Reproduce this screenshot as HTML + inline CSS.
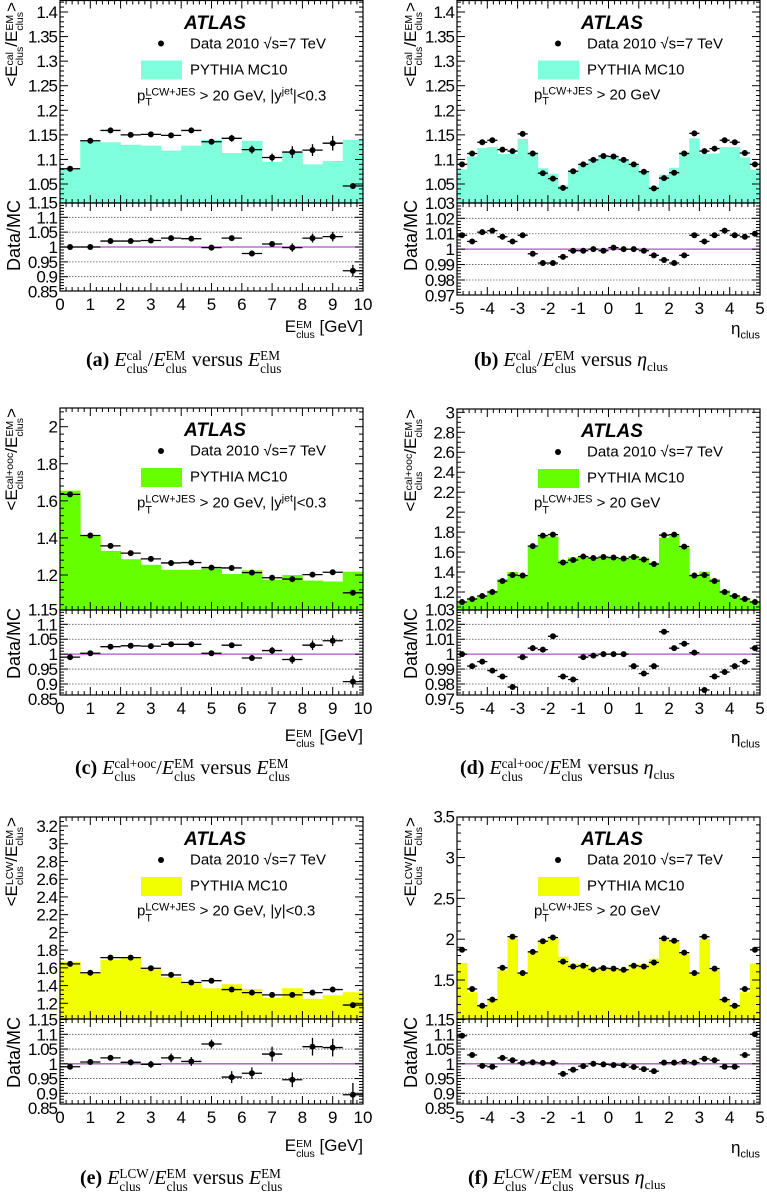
<!DOCTYPE html>
<html><head><meta charset="utf-8">
<style>
html,body{margin:0;padding:0;background:#fff;}
body{width:767px;height:1192px;position:relative;overflow:hidden;font-family:"Liberation Sans",sans-serif;}
svg{position:absolute;left:0;top:0;}
.lbl{position:absolute;white-space:nowrap;color:#000;line-height:1;}
.ss{display:inline-flex;flex-direction:column;font-size:0.62em;line-height:0.95;vertical-align:0.42em;text-align:left;}
.cap{position:absolute;white-space:nowrap;font-family:"Liberation Serif",serif;font-size:20px;line-height:1;}
.cap i{font-style:italic;}
.cap .ss{font-size:0.66em;vertical-align:0.45em;}
.yt{position:absolute;white-space:nowrap;font-size:17px;line-height:1;transform-origin:0 0;transform:rotate(-90deg) translate(-100%,-50%);}
.atlas{position:absolute;font-weight:bold;font-style:italic;font-size:19px;transform:translate(-50%,-50%);}
.leg{position:absolute;font-size:15px;transform:translateY(-50%);white-space:nowrap;}
</style></head>
<body>
<svg id="fig" width="767" height="1192"></svg>

<div class="yt" style="left:14px;top:2px">&lt;E<span class="ss"><span>cal</span><span>clus</span></span>/E<span class="ss"><span>EM</span><span>clus</span></span>&gt;</div>
<div class="yt" style="left:413px;top:2px">&lt;E<span class="ss"><span>cal</span><span>clus</span></span>/E<span class="ss"><span>EM</span><span>clus</span></span>&gt;</div>
<div class="yt" style="left:14px;top:408px">&lt;E<span class="ss"><span>cal+ooc</span><span>clus</span></span>/E<span class="ss"><span>EM</span><span>clus</span></span>&gt;</div>
<div class="yt" style="left:413px;top:409px">&lt;E<span class="ss"><span>cal+ooc</span><span>clus</span></span>/E<span class="ss"><span>EM</span><span>clus</span></span>&gt;</div>
<div class="yt" style="left:14px;top:817px">&lt;E<span class="ss"><span>LCW</span><span>clus</span></span>/E<span class="ss"><span>EM</span><span>clus</span></span>&gt;</div>
<div class="yt" style="left:413px;top:817px">&lt;E<span class="ss"><span>LCW</span><span>clus</span></span>/E<span class="ss"><span>EM</span><span>clus</span></span>&gt;</div>

<div class="yt" style="font-size:18px;left:14px;top:200px">Data/MC</div>
<div class="yt" style="font-size:18px;left:411px;top:200px">Data/MC</div>
<div class="yt" style="font-size:18px;left:14px;top:608px">Data/MC</div>
<div class="yt" style="font-size:18px;left:411px;top:608px">Data/MC</div>
<div class="yt" style="font-size:18px;left:14px;top:1017px">Data/MC</div>
<div class="yt" style="font-size:18px;left:411px;top:1017px">Data/MC</div>

<div class="lbl" style="font-size:17px;right:404px;top:318px">E<span class="ss"><span>EM</span><span>clus</span></span> [GeV]</div>
<div class="lbl" style="font-size:17px;right:7px;top:320px">η<sub style="font-size:11px">clus</sub></div>
<div class="lbl" style="font-size:17px;right:404px;top:727px">E<span class="ss"><span>EM</span><span>clus</span></span> [GeV]</div>
<div class="lbl" style="font-size:17px;right:7px;top:729px">η<sub style="font-size:11px">clus</sub></div>
<div class="lbl" style="font-size:17px;right:404px;top:1137px">E<span class="ss"><span>EM</span><span>clus</span></span> [GeV]</div>
<div class="lbl" style="font-size:17px;right:7px;top:1139px">η<sub style="font-size:11px">clus</sub></div>

<div class="cap" style="left:86px;top:350px"><b>(a)</b> <i>E</i><span class="ss"><span>cal</span><span>clus</span></span>/<i>E</i><span class="ss"><span>EM</span><span>clus</span></span> versus <i>E</i><span class="ss"><span>EM</span><span>clus</span></span></div>
<div class="cap" style="left:474px;top:350px"><b>(b)</b> <i>E</i><span class="ss"><span>cal</span><span>clus</span></span>/<i>E</i><span class="ss"><span>EM</span><span>clus</span></span> versus <i>η</i><sub style="font-size:13px">clus</sub></div>
<div class="cap" style="left:75px;top:758px"><b>(c)</b> <i>E</i><span class="ss"><span>cal+ooc</span><span>clus</span></span>/<i>E</i><span class="ss"><span>EM</span><span>clus</span></span> versus <i>E</i><span class="ss"><span>EM</span><span>clus</span></span></div>
<div class="cap" style="left:460px;top:758px"><b>(d)</b> <i>E</i><span class="ss"><span>cal+ooc</span><span>clus</span></span>/<i>E</i><span class="ss"><span>EM</span><span>clus</span></span> versus <i>η</i><sub style="font-size:13px">clus</sub></div>
<div class="cap" style="left:80px;top:1168px"><b>(e)</b> <i>E</i><span class="ss"><span>LCW</span><span>clus</span></span>/<i>E</i><span class="ss"><span>EM</span><span>clus</span></span> versus <i>E</i><span class="ss"><span>EM</span><span>clus</span></span></div>
<div class="cap" style="left:468px;top:1168px"><b>(f)</b> <i>E</i><span class="ss"><span>LCW</span><span>clus</span></span>/<i>E</i><span class="ss"><span>EM</span><span>clus</span></span> versus <i>η</i><sub style="font-size:13px">clus</sub></div>

<script>
const aData=[1.081,1.138,1.159,1.150,1.151,1.149,1.159,1.136,1.143,1.120,1.104,1.115,1.119,1.133,1.046];
const aMC=[1.080,1.137,1.135,1.130,1.128,1.118,1.128,1.140,1.113,1.138,1.095,1.115,1.090,1.097,1.140];
const aErr=[0.002,0.002,0.002,0.002,0.002,0.002,0.003,0.005,0.007,0.008,0.008,0.012,0.012,0.015,0.005];
const aRatio=[1.0,1.0,1.02,1.02,1.022,1.03,1.028,0.998,1.03,0.978,1.01,0.998,1.03,1.035,0.92];
const aRErr=[0.003,0.003,0.003,0.003,0.003,0.003,0.004,0.005,0.008,0.01,0.01,0.014,0.015,0.016,0.02];

const bData=[1.090,1.112,1.135,1.139,1.120,1.117,1.152,1.112,1.072,1.061,1.042,1.076,1.090,1.099,1.107,1.106,1.099,1.090,1.075,1.041,1.062,1.073,1.112,1.153,1.117,1.122,1.139,1.135,1.113,1.090];
const bMC=[1.080,1.106,1.123,1.125,1.111,1.111,1.142,1.115,1.082,1.071,1.047,1.077,1.091,1.099,1.108,1.105,1.099,1.090,1.076,1.045,1.069,1.083,1.116,1.143,1.111,1.112,1.125,1.125,1.104,1.079];
const bErr=[0.001,0.001,0.001,0.001,0.001,0.001,0.001,0.001,0.001,0.001,0.001,0.001,0.001,0.001,0.001,0.001,0.001,0.001,0.001,0.001,0.001,0.001,0.001,0.001,0.001,0.001,0.001,0.001,0.001,0.001];
const bRatio=[1.009,1.005,1.011,1.012,1.008,1.005,1.009,0.997,0.991,0.991,0.995,0.999,0.999,1.0,0.999,1.001,1.0,1.0,0.999,0.996,0.993,0.991,0.996,1.009,1.005,1.009,1.012,1.009,1.008,1.010];
const bRErr=[0.0005,0.0005,0.0005,0.0005,0.0005,0.0005,0.0005,0.0005,0.0005,0.0005,0.0005,0.0005,0.0005,0.0005,0.0005,0.0005,0.0005,0.0005,0.0005,0.0005,0.0005,0.0005,0.0005,0.0005,0.0005,0.0005,0.0005,0.0005,0.0005,0.0005];

const cData=[1.635,1.413,1.357,1.318,1.287,1.265,1.267,1.240,1.238,1.213,1.185,1.178,1.202,1.215,1.104];
const cMC=[1.655,1.410,1.330,1.285,1.255,1.228,1.228,1.235,1.205,1.225,1.175,1.200,1.170,1.165,1.218];
const cErr=[0.003,0.003,0.003,0.003,0.003,0.003,0.003,0.004,0.004,0.005,0.005,0.006,0.006,0.008,0.005];
const cRatio=[0.99,1.003,1.025,1.028,1.027,1.033,1.033,1.003,1.03,0.987,1.012,0.982,1.03,1.045,0.908];
const cRErr=[0.005,0.004,0.004,0.004,0.005,0.005,0.005,0.006,0.008,0.01,0.012,0.014,0.016,0.018,0.02];

const dData=[1.10,1.13,1.16,1.20,1.31,1.37,1.365,1.66,1.765,1.775,1.495,1.52,1.555,1.54,1.55,1.545,1.535,1.55,1.525,1.48,1.77,1.775,1.655,1.365,1.37,1.31,1.20,1.16,1.13,1.10];
const dMC=[1.100,1.139,1.166,1.213,1.330,1.401,1.368,1.653,1.760,1.754,1.518,1.546,1.558,1.542,1.550,1.545,1.535,1.562,1.545,1.492,1.744,1.768,1.643,1.364,1.404,1.330,1.215,1.169,1.136,1.096];
const dErr=[0.002,0.002,0.002,0.002,0.002,0.002,0.002,0.002,0.002,0.002,0.002,0.002,0.002,0.002,0.002,0.002,0.002,0.002,0.002,0.002,0.002,0.002,0.002,0.002,0.002,0.002,0.002,0.002,0.002,0.002];
const dRatio=[1.0,0.992,0.995,0.989,0.985,0.978,0.998,1.004,1.003,1.012,0.985,0.983,0.998,0.999,1.0,1.0,1.0,0.992,0.987,0.992,1.015,1.004,1.007,1.001,0.976,0.985,0.988,0.992,0.995,1.004];
const dRErr=[0.001,0.0005,0.0005,0.0005,0.0005,0.0005,0.0005,0.0005,0.0005,0.001,0.0015,0.001,0.0005,0.0005,0.0005,0.0005,0.0005,0.0005,0.0005,0.001,0.001,0.0005,0.0005,0.0005,0.001,0.0005,0.0005,0.0005,0.0005,0.001];

const eData=[1.645,1.545,1.715,1.715,1.595,1.52,1.435,1.455,1.355,1.32,1.295,1.295,1.32,1.355,1.18];
const eMC=[1.67,1.535,1.69,1.71,1.595,1.495,1.42,1.37,1.415,1.36,1.265,1.37,1.25,1.29,1.325];
const eErr=[0.005,0.005,0.005,0.008,0.008,0.008,0.008,0.008,0.01,0.01,0.01,0.01,0.01,0.01,0.01];
const eRatio=[0.99,1.006,1.02,1.005,0.998,1.02,1.008,1.067,0.955,0.968,1.033,0.946,1.058,1.055,0.895];
const eRErr=[0.005,0.005,0.005,0.01,0.012,0.015,0.015,0.015,0.02,0.02,0.025,0.025,0.03,0.03,0.04];

const fData=[1.87,1.39,1.185,1.26,1.65,2.03,1.585,1.845,1.975,2.02,1.725,1.665,1.675,1.63,1.645,1.64,1.625,1.675,1.665,1.715,2.01,1.98,1.835,1.585,2.03,1.64,1.26,1.185,1.39,1.87];
const fMC=[1.71,1.35,1.19,1.27,1.62,2.01,1.58,1.84,1.97,2.01,1.785,1.70,1.69,1.63,1.65,1.65,1.635,1.69,1.695,1.76,2.00,1.97,1.82,1.58,2.00,1.62,1.27,1.195,1.35,1.70];
const fErr=[0.01,0.005,0.005,0.005,0.005,0.005,0.005,0.005,0.005,0.005,0.005,0.005,0.005,0.005,0.005,0.005,0.005,0.005,0.005,0.005,0.005,0.005,0.005,0.005,0.005,0.005,0.005,0.005,0.005,0.01];
const fRatio=[1.095,1.03,0.993,0.99,1.02,1.012,1.003,1.005,1.003,1.003,0.966,0.98,0.992,1.0,0.998,0.996,0.995,0.989,0.982,0.975,1.004,1.004,1.007,1.004,1.017,1.012,0.99,0.99,1.03,1.10];
const fRErr=[0.008,0.003,0.003,0.003,0.003,0.003,0.003,0.003,0.003,0.003,0.003,0.003,0.003,0.003,0.003,0.003,0.003,0.003,0.003,0.003,0.003,0.003,0.003,0.003,0.003,0.003,0.003,0.003,0.003,0.008];

const eTickLabels=["0","1","2","3","4","5","6","7","8","9","10"];
const etaTickLabels=["-5","-4","-3","-2","-1","0","1","2","3","4","5"];
const aMainLabels=["1.05","1.1","1.15","1.2","1.25","1.3","1.35","1.4"];
const cMainLabels=["1.2","1.4","1.6","1.8","2"];
const dMainLabels=["1.2","1.4","1.6","1.8","2","2.2","2.4","2.6","2.8","3"];
const eMainLabels=["1.2","1.4","1.6","1.8","2","2.2","2.4","2.6","2.8","3","3.2"];
const fMainLabels=["1.5","2","2.5","3","3.5"];
const wideRatioLabels=["0.85","0.9","0.95","1","1.05","1.1","1.15"];
const narrowRatioLabels=["0.97","0.98","0.99","1","1.01","1.02","1.03"];
const wideGrid=[0.9,0.95,1.05,1.1];
const narrowGrid=[0.98,0.99,1.01,1.02];

const NS="http://www.w3.org/2000/svg";
const svg=document.getElementById("fig");
function mk(tag,attrs,parent){const e=document.createElementNS(NS,tag);for(const k in attrs)e.setAttribute(k,attrs[k]);(parent||svg).appendChild(e);return e;}
function lin(v1,p1,v2,p2){return v=>p1+(v-v1)*(p2-p1)/(v2-v1);}
function inv(F,lo,hi){const a=F(0),b=F(1)-F(0);const v1=(hi-a)/b,v2=(lo-a)/b;return [Math.min(v1,v2),Math.max(v1,v2)];}

function drawPanel(P){
  const g=mk("g",{});
  
  
  const X=lin(P.xmin,P.x0,P.xmax,P.x1);
  const Y=lin(P.mv[0],P.mv[1],P.mv[2],P.mv[3]);
  const R=lin(P.rv[0],P.rv[1],P.rv[2],P.rv[3]);
  const n=P.data.length, w=(P.xmax-P.xmin)/n;
  for(let i=0;i<n;i++){
    const xa=X(P.xmin+i*w), xb=X(P.xmin+(i+1)*w);
    const yt=Math.max(P.top,Y(P.mc[i]));
    const r=mk("rect",{x:xa,y:yt,width:xb-xa+0.4,height:Math.max(0,P.mid-yt),fill:P.color},g);
    
    
  }
  P.grid.forEach(v=>{
    const l=mk("line",{x1:P.x0,x2:P.x1,y1:R(v),y2:R(v),stroke:"#555","stroke-width":0.8,"stroke-dasharray":"1.5,1.5"},g);
    
    
  });
  const one=mk("line",{x1:P.x0,x2:P.x1,y1:R(1),y2:R(1),stroke:"#b050c8","stroke-width":1.3},g);
  
  
  function pts(vals,errs,F,lo,hi,nm){
    for(let i=0;i<n;i++){
      const cx=X(P.xmin+(i+0.5)*w), cy=F(vals[i]);
      if(cy<lo||cy>hi) continue;
      const pg=mk("g",{},g);
      
      
      mk("line",{x1:X(P.xmin+i*w),x2:X(P.xmin+(i+1)*w),y1:cy,y2:cy,stroke:"#000","stroke-width":1.3},pg);
      const e1=Math.max(lo,F(vals[i]+errs[i])), e2=Math.min(hi,F(vals[i]-errs[i]));
      mk("line",{x1:cx,x2:cx,y1:e1,y2:e2,stroke:"#000","stroke-width":1.3},pg);
      mk("circle",{cx:cx,cy:cy,r:3,fill:"#000"},pg);
    }
  }
  pts(P.data,P.err,Y,P.top,P.mid,'data-'+P.key);
  pts(P.ratio,P.rerr,R,P.mid,P.bot,'ratio-'+P.key);
  [[P.top,P.mid],[P.mid,P.bot]].forEach(([a,b])=>{
    const f=mk("rect",{x:P.x0,y:a,width:P.x1-P.x0,height:b-a,fill:"none",stroke:"#000","stroke-width":1.2},g);
    
    
  });
  const tk=mk("g",{stroke:"#000","stroke-width":1},g);
  
  
  for(let v=P.xmin;v<=P.xmax+1e-9;v+=0.2){
    const major=Math.abs(v-Math.round(v))<1e-6;
    const L=major?8:4, x=X(v);
    mk("line",{x1:x,x2:x,y1:P.top,y2:P.top+L},tk);
    mk("line",{x1:x,x2:x,y1:P.mid,y2:P.mid-L},tk);
    mk("line",{x1:x,x2:x,y1:P.mid,y2:P.mid+L},tk);
    mk("line",{x1:x,x2:x,y1:P.bot,y2:P.bot-L},tk);
  }
  function yt(F,lo,hi,step,majors){
    const r=inv(F,lo,hi);
    const start=Math.ceil(r[0]/step-1e-6)*step;
    for(let v=start;v<=r[1]+1e-9;v+=step){
      const y=F(v); if(y<lo-0.5||y>hi+0.5) continue;
      const major=majors.some(m=>Math.abs(m-v)<step/3);
      const L=major?8:4;
      mk("line",{x1:P.x0,x2:P.x0+L,y1:y,y2:y},tk);
      mk("line",{x1:P.x1,x2:P.x1-L,y1:y,y2:y},tk);
    }
  }
  yt(Y,P.top,P.mid,P.mstep,P.mainLabels.map(Number));
  yt(R,P.mid,P.bot,P.rstep,P.ratioLabels.map(Number));
  const lg=mk("g",{"font-family":"Liberation Sans, sans-serif",fill:"#000"},g);
  
  
  P.mainLabels.forEach(s=>{
    const y=Y(Number(s)); if(y<P.top-2||y>P.mid-6) return;
    const t=mk("text",{x:P.x0-3,y:y+6,"text-anchor":"end","font-size":17,"letter-spacing":"-1"},lg);
    t.textContent=s;
    
    
  });
  P.ratioLabels.forEach(s=>{
    const y=R(Number(s));
    const t=mk("text",{x:P.x0-3,y:y+6,"text-anchor":"end","font-size":17,"letter-spacing":"-1"},lg);
    t.textContent=s;
    
    
  });
  P.xLabels.forEach(s=>{
    const t=mk("text",{x:X(Number(s)),y:P.bot+19,"text-anchor":"middle","font-size":17},lg);
    t.textContent=s;
    
    
  });
  const dot=mk("circle",{cx:P.x0+101,cy:P.top+43,r:3,fill:"#000"},g);
  
  
  const box=mk("rect",{x:P.x0+81,y:P.top+60,width:41,height:19,fill:P.color},g);
  
  
  const add=(cls,html,left,top,name)=>{
    const d=document.createElement("div");d.className=cls;d.innerHTML=html;
    d.style.left=left+"px";d.style.top=top+"px";
    
    
    document.body.appendChild(d);
  };
  add("atlas","ATLAS",P.x0+155,P.top+23,'atlas-label');
  add("leg","Data 2010 √s=7 TeV",P.x0+130,P.top+43,'legend-data');
  add("leg","PYTHIA MC10",P.x0+130,P.top+69,'legend-mc');
  add("leg",'p<span class="ss" style="font-size:0.72em"><span>LCW+JES</span><span>T</span></span> &gt; 20 GeV'+P.cut,P.x0+77,P.top+96,'cut-label');
}

const L0=60,L1=363,R0=457,R1=760;
drawPanel({key:'a',x0:L0,x1:L1,top:0.5,mid:203,bot:291,xmin:0,xmax:10,mv:[1.4,12,1.05,184],rv:[1.1,217.3,0.9,276.7],
  data:aData,mc:aMC,err:aErr,ratio:aRatio,rerr:aRErr,color:"#80ffdc",grid:wideGrid,mstep:0.01,rstep:0.01,
  mainLabels:aMainLabels,ratioLabels:wideRatioLabels,xLabels:eTickLabels,cut:', |y<sup style="font-size:0.7em">jet</sup>|&lt;0.3'});
drawPanel({key:'b',x0:R0,x1:R1,top:0.5,mid:203,bot:295,xmin:-5,xmax:5,mv:[1.4,12,1.05,184],rv:[1.02,218.3,0.98,280],
  data:bData,mc:bMC,err:bErr,ratio:bRatio,rerr:bRErr,color:"#80ffdc",grid:narrowGrid,mstep:0.01,rstep:0.002,
  mainLabels:aMainLabels,ratioLabels:narrowRatioLabels,xLabels:etaTickLabels,cut:''});
drawPanel({key:'c',x0:L0,x1:L1,top:408,mid:610,bot:695,xmin:0,xmax:10,mv:[2,426.7,1.2,575],rv:[1.1,624.3,0.9,684],
  data:cData,mc:cMC,err:cErr,ratio:cRatio,rerr:cRErr,color:"#66ff00",grid:wideGrid,mstep:0.04,rstep:0.01,
  mainLabels:cMainLabels,ratioLabels:wideRatioLabels,xLabels:eTickLabels,cut:', |y<sup style="font-size:0.7em">jet</sup>|&lt;0.3'});
drawPanel({key:'d',x0:R0,x1:R1,top:409,mid:610,bot:695,xmin:-5,xmax:5,mv:[3,412.3,1.2,592],rv:[1.02,624.3,0.98,684],
  data:dData,mc:dMC,err:dErr,ratio:dRatio,rerr:dRErr,color:"#66ff00",grid:narrowGrid,mstep:0.05,rstep:0.002,
  mainLabels:dMainLabels,ratioLabels:narrowRatioLabels,xLabels:etaTickLabels,cut:''});
drawPanel({key:'e',x0:L0,x1:L1,top:817,mid:1019,bot:1104,xmin:0,xmax:10,mv:[3.2,826,1.2,1003.3],rv:[1.1,1034.3,0.9,1093.3],
  data:eData,mc:eMC,err:eErr,ratio:eRatio,rerr:eRErr,color:"#f2ff00",grid:wideGrid,mstep:0.05,rstep:0.01,
  mainLabels:eMainLabels,ratioLabels:wideRatioLabels,xLabels:eTickLabels,cut:', |y|&lt;0.3'});
drawPanel({key:'f',x0:R0,x1:R1,top:817,mid:1019,bot:1104,xmin:-5,xmax:5,mv:[3.5,816.7,1.5,980],rv:[1.1,1034.3,0.9,1093.3],
  data:fData,mc:fMC,err:fErr,ratio:fRatio,rerr:fRErr,color:"#f2ff00",grid:wideGrid,mstep:0.1,rstep:0.01,
  mainLabels:fMainLabels,ratioLabels:wideRatioLabels,xLabels:etaTickLabels,cut:''});
</script>
</body></html>
